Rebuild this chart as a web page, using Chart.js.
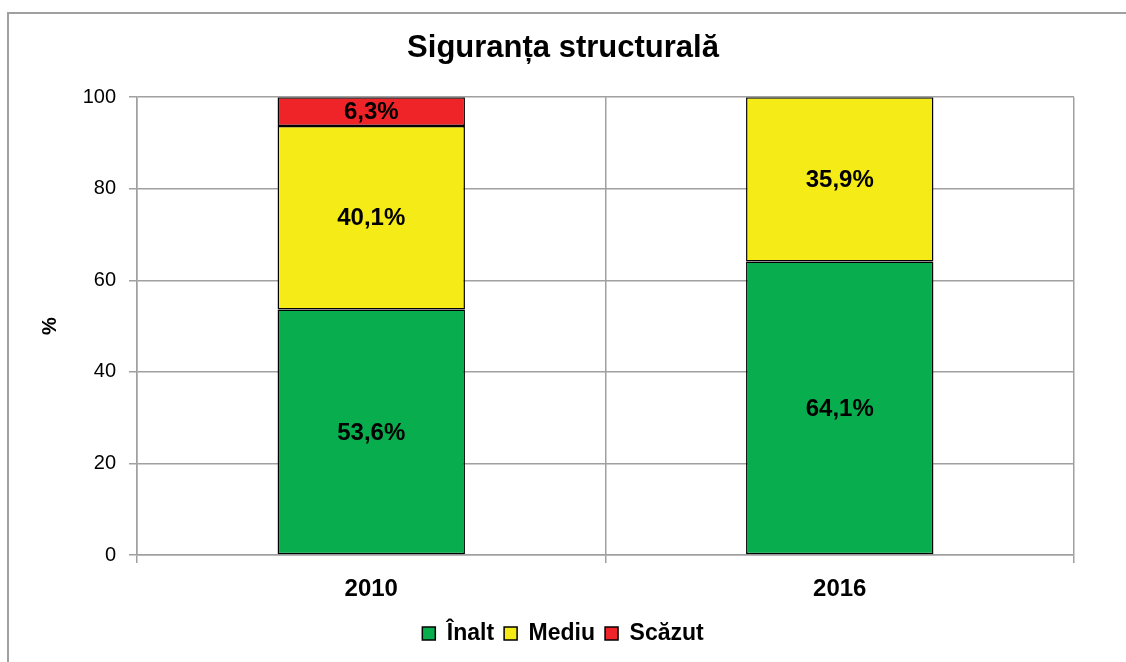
<!DOCTYPE html>
<html>
<head>
<meta charset="utf-8">
<script src="https://cdn.jsdelivr.net/npm/chart.js@4/dist/chart.umd.min.js"></script>
<style>
    html, body { margin: 0; padding: 0; background: #fff; }
    #wrap { position: relative; width: 1126px; height: 662px; }
</style>
</head>
<body>
<div id="wrap"><canvas id="chart"></canvas></div>
<script>
const years = ['2010', '2016'];
const inalt = [53.6, 64.1];
const mediu = [40.1, 35.9];
const scazut = [6.3, 0];
const yTicks = [0, 20, 40, 60, 80, 100];

const gridGrey = '#a0a0a0';
const boldFont = "'Liberation Sans', Arial, sans-serif";

// outer frame of the chart (it runs off the right and bottom edge)
const framePlugin = {
    id: 'frame',
    beforeDraw(chart) {
        const ctx = chart.ctx;
        ctx.save();
        ctx.fillStyle = '#fff';
        ctx.fillRect(0, 0, chart.width, chart.height);
        ctx.strokeStyle = '#a0a0a0';
        ctx.lineWidth = 2;
        ctx.strokeRect(8, 13, 1300, 900);
        ctx.restore();
    }
};

// value labels in the middle of each segment
const valueLabels = {
    id: 'valueLabels',
    afterDatasetsDraw(chart) {
        const ctx = chart.ctx;
        ctx.save();
        ctx.font = 'bold 24px ' + boldFont;
        ctx.fillStyle = '#000';
        ctx.textAlign = 'center';
        ctx.textBaseline = 'middle';
        chart.data.datasets.forEach((ds, i) => {
            const meta = chart.getDatasetMeta(i);
            meta.data.forEach((bar, j) => {
                const v = ds.data[j];
                if (!v) return;
                const y = (bar.y + bar.base) / 2;
                ctx.fillText(v.toFixed(1).replace('.', ',') + '%', bar.x, y + 1);
            });
        });
        ctx.restore();
    }
};

const makeSet = (label, data, color) => ({
    label: label,
    data: data,
    backgroundColor: color,
    borderColor: '#000',
    borderWidth: 1.5,
    borderSkipped: false,
    categoryPercentage: 0.8,
    barPercentage: 0.5
});

new Chart(document.getElementById('chart'), {
    type: 'bar',
    data: {
        labels: years,
        datasets: [
            makeSet('Înalt', inalt, '#08ae4e'),
            makeSet('Mediu', mediu, '#f5eb16'),
            makeSet('Scăzut', scazut, '#ee2428')
        ]
    },
    options: {
        responsive: true,
        maintainAspectRatio: false,
        animation: false,
        devicePixelRatio: 1,
        layout: {
            padding: { left: 0, right: 0, top: 0, bottom: 7 }
        },
        plugins: {
            title: {
                display: true,
                text: 'Siguranța structurală',
                color: '#000',
                font: { family: boldFont, size: 31, weight: 'bold' },
                padding: { top: 30, bottom: 30 }
            },
            legend: {
                position: 'bottom',
                labels: {
                    color: '#000',
                    font: { family: boldFont, size: 23, weight: 'bold' },
                    boxWidth: 13,
                    boxHeight: 13,
                    padding: 10
                }
            },
            tooltip: { enabled: false }
        },
        scales: {
            x: {
                stacked: true,
                grid: {
                    color: gridGrey,
                    lineWidth: 1.5,
                    tickLength: 8
                },
                border: { color: gridGrey, width: 1.5 },
                ticks: {
                    color: '#000',
                    font: { family: boldFont, size: 24, weight: 'bold' },
                    padding: 12
                },
                afterFit: scale => { scale.height = 57; }
            },
            y: {
                stacked: true,
                min: 0,
                max: 100,
                afterBuildTicks: scale => {
                    scale.ticks = yTicks.map(v => ({ value: v }));
                },
                grid: {
                    color: gridGrey,
                    lineWidth: 1.5,
                    tickLength: 8
                },
                border: { color: gridGrey, width: 1.5 },
                ticks: {
                    color: '#000',
                    font: { family: "'Liberation Sans', Arial, sans-serif", size: 20 },
                    padding: 13
                },
                title: {
                    display: true,
                    text: '%',
                    color: '#000',
                    font: { family: boldFont, size: 20, weight: 'bold' },
                    padding: 38
                },
                afterFit: scale => { scale.width = 137; }
            },
            // empty right axis, only keeps the right margin so title and legend stay centred
            yRight: {
                position: 'right',
                grid: { display: false },
                border: { display: false },
                ticks: { display: false },
                afterFit: scale => { scale.width = 52; }
            }
        }
    },
    plugins: [framePlugin, valueLabels]
});
</script>
</body>
</html>
